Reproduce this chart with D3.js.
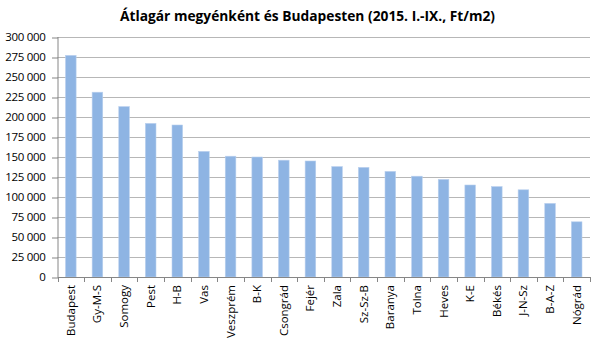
<!DOCTYPE html>
<html>
<head>
<meta charset="utf-8">
<script src="https://cdn.jsdelivr.net/npm/d3@7"></script>
<style>
  html, body { margin: 0; padding: 0; background: #fff; }
  svg { display: block; }
  text { font-family: "Open Sans", "Liberation Sans", sans-serif; fill: #000; }
</style>
</head>
<body>
<svg id="chart" width="600" height="344"></svg>
<script>
const title = "Átlagár megyénként és Budapesten (2015. I.-IX., Ft/m2)";
const categories = ["Budapest","Gy-M-S","Somogy","Pest","H-B","Vas","Veszprém","B-K","Csongrád","Fejér","Zala","Sz-Sz-B","Baranya","Tolna","Heves","K-E","Békés","J-N-Sz","B-A-Z","Nógrád"];
const values = [277000,231000,213000,192000,190000,157000,151000,150000,146000,145000,138000,137000,132000,126000,122000,115000,113000,109000,92000,69000];
const yTicks = [0,25000,50000,75000,100000,125000,150000,175000,200000,225000,250000,275000,300000];

const svg = d3.select("#chart");
const mLeft = 57.5, mRight = 590, mTop = 37, mBottom = 277;

const xb = d3.scaleBand().domain(categories).range([mLeft, mRight]);
const y = d3.scaleLinear().domain([0, 300000]).range([mBottom, mTop]);

const fmt = v => d3.format(",")(v).replace(/,/g, " ");

// gridlines
svg.append("g").selectAll("line").data(yTicks.filter(d => d > 0)).join("line")
  .attr("x1", mLeft).attr("x2", mRight)
  .attr("y1", d => Math.round(y(d)) + 0.5).attr("y2", d => Math.round(y(d)) + 0.5)
  .attr("stroke", "#b7b7b7").attr("stroke-width", 1);

// bars
svg.append("g").selectAll("rect").data(values).join("rect")
  .attr("x", (d, i) => xb(categories[i]) + xb.bandwidth() / 2 - 5.3)
  .attr("width", 10.6)
  .attr("y", d => y(d))
  .attr("height", d => y(0) - y(d))
  .attr("fill", "#8eb4e3")
  .attr("stroke", "#b9d0ee").attr("stroke-width", 0.6);

// y axis
const yAxis = d3.axisLeft(y).tickValues(yTicks).tickFormat(fmt).tickSize(6).tickPadding(6);
const gy = svg.append("g").attr("transform", `translate(${mLeft},0)`).call(yAxis);
gy.select(".domain").attr("stroke", "#868686").attr("d", `M0.5,${mTop}V${mBottom}`);
gy.selectAll(".tick line").attr("stroke", "#868686").attr("transform", "translate(0.5,0.5)");
gy.selectAll(".tick text").attr("font-size", 11.5).attr("font-family", "Open Sans, sans-serif").attr("fill", "#000").attr("letter-spacing", "-0.3");

// x axis
const xAxis = d3.axisBottom(xb).tickSize(0).tickPadding(0);
const gx = svg.append("g").attr("transform", `translate(0,${mBottom})`).call(xAxis);
gx.select(".domain").attr("stroke", "#868686").attr("d", `M${mLeft},0.5H${mRight}`);
gx.selectAll(".tick text")
  .attr("font-size", 11.5).attr("font-family", "Open Sans, sans-serif").attr("fill", "#000")
  .attr("text-anchor", "end")
  .attr("transform", "rotate(-90)")
  .attr("x", -8).attr("y", 0).attr("dy", "0.35em");
// category boundary ticks
svg.append("g").selectAll("line").data(categories.concat(["_end"])).join("line")
  .attr("x1", (d, i) => Math.round(mLeft + i * xb.step()) + 0.5)
  .attr("x2", (d, i) => Math.round(mLeft + i * xb.step()) + 0.5)
  .attr("y1", mBottom).attr("y2", mBottom + 5)
  .attr("stroke", "#868686");

// title
svg.append("text").attr("x", 307.5).attr("y", 21).attr("text-anchor", "middle")
  .attr("font-size", 14.5).attr("font-weight", "bold")
  .attr("textLength", 375).attr("lengthAdjust", "spacingAndGlyphs").text(title);
</script>
</body>
</html>
